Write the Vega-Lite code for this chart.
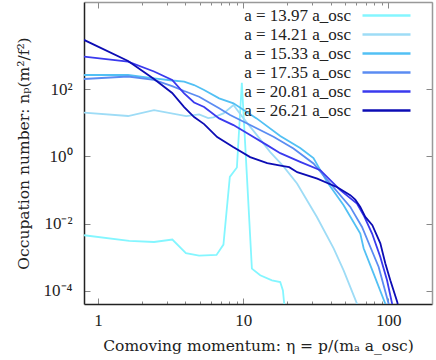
{
  "$schema": "https://vega.github.io/schema/vega-lite/v6.json",
  "width": 348,
  "height": 302,
  "autosize": {"type": "none"},
  "padding": {"left": 84, "top": 2, "right": 4, "bottom": 56},
  "background": "white",
  "config": {
    "font": "Liberation Serif",
    "view": {"stroke": null},
    "axis": {"grid": false, "labelFont": "Liberation Serif", "titleFont": "DejaVu Serif", "labelFontSize": 17, "titleFontSize": 15.5, "titleFontWeight": "normal", "labelColor": "#222", "titleColor": "#222", "tickColor": "#888", "tickWidth": 1}
  },
  "data": {"values": [
    {"s": "a = 13.97 a_osc", "eta": 0.8, "n": 0.00448},
    {"s": "a = 13.97 a_osc", "eta": 1.64, "n": 0.00303},
    {"s": "a = 13.97 a_osc", "eta": 2.43, "n": 0.00282},
    {"s": "a = 13.97 a_osc", "eta": 3.25, "n": 0.00333},
    {"s": "a = 13.97 a_osc", "eta": 4.03, "n": 0.00132},
    {"s": "a = 13.97 a_osc", "eta": 4.97, "n": 0.00111},
    {"s": "a = 13.97 a_osc", "eta": 6.55, "n": 0.00116},
    {"s": "a = 13.97 a_osc", "eta": 7.31, "n": 0.00236},
    {"s": "a = 13.97 a_osc", "eta": 8.09, "n": 0.246},
    {"s": "a = 13.97 a_osc", "eta": 9.05, "n": 0.47},
    {"s": "a = 13.97 a_osc", "eta": 9.79, "n": 157},
    {"s": "a = 13.97 a_osc", "eta": 10.6, "n": 0.277},
    {"s": "a = 13.97 a_osc", "eta": 11.48, "n": 0.000454},
    {"s": "a = 13.97 a_osc", "eta": 13.1, "n": 0.000287},
    {"s": "a = 13.97 a_osc", "eta": 15.78, "n": 0.000203},
    {"s": "a = 13.97 a_osc", "eta": 18.0, "n": 0.000181},
    {"s": "a = 13.97 a_osc", "eta": 18.78, "n": 0.000102},
    {"s": "a = 13.97 a_osc", "eta": 19.3, "n": 0.00003},

    {"s": "a = 14.21 a_osc", "eta": 0.8, "n": 20.3},
    {"s": "a = 14.21 a_osc", "eta": 1.61, "n": 16.0},
    {"s": "a = 14.21 a_osc", "eta": 2.43, "n": 24.1},
    {"s": "a = 14.21 a_osc", "eta": 4.05, "n": 16.0},
    {"s": "a = 14.21 a_osc", "eta": 4.97, "n": 17.9},
    {"s": "a = 14.21 a_osc", "eta": 5.74, "n": 13.9},
    {"s": "a = 14.21 a_osc", "eta": 6.24, "n": 14.6},
    {"s": "a = 14.21 a_osc", "eta": 7.31, "n": 19.2},
    {"s": "a = 14.21 a_osc", "eta": 8.57, "n": 34.0},
    {"s": "a = 14.21 a_osc", "eta": 10.05, "n": 13.6},
    {"s": "a = 14.21 a_osc", "eta": 12.43, "n": 4.32},
    {"s": "a = 14.21 a_osc", "eta": 15.36, "n": 1.34},
    {"s": "a = 14.21 a_osc", "eta": 18.88, "n": 0.513},
    {"s": "a = 14.21 a_osc", "eta": 23.5, "n": 0.156},
    {"s": "a = 14.21 a_osc", "eta": 32.2, "n": 0.0157},
    {"s": "a = 14.21 a_osc", "eta": 42.0, "n": 0.00183},
    {"s": "a = 14.21 a_osc", "eta": 49.2, "n": 0.000404},
    {"s": "a = 14.21 a_osc", "eta": 60.8, "n": 0.0000409},
    {"s": "a = 14.21 a_osc", "eta": 62.5, "n": 0.00003},

    {"s": "a = 15.33 a_osc", "eta": 0.8, "n": 267},
    {"s": "a = 15.33 a_osc", "eta": 1.61, "n": 267},
    {"s": "a = 15.33 a_osc", "eta": 2.43, "n": 213},
    {"s": "a = 15.33 a_osc", "eta": 3.24, "n": 183},
    {"s": "a = 15.33 a_osc", "eta": 3.92, "n": 169},
    {"s": "a = 15.33 a_osc", "eta": 4.59, "n": 134},
    {"s": "a = 15.33 a_osc", "eta": 5.38, "n": 95.3},
    {"s": "a = 15.33 a_osc", "eta": 6.83, "n": 53.8},
    {"s": "a = 15.33 a_osc", "eta": 8.57, "n": 38.2},
    {"s": "a = 15.33 a_osc", "eta": 12.37, "n": 13.6},
    {"s": "a = 15.33 a_osc", "eta": 18.0, "n": 4.04},
    {"s": "a = 15.33 a_osc", "eta": 24.7, "n": 1.77},
    {"s": "a = 15.33 a_osc", "eta": 30.5, "n": 0.89},
    {"s": "a = 15.33 a_osc", "eta": 37.8, "n": 0.175},
    {"s": "a = 15.33 a_osc", "eta": 49.2, "n": 0.0352},
    {"s": "a = 15.33 a_osc", "eta": 64.1, "n": 0.00503},
    {"s": "a = 15.33 a_osc", "eta": 67.6, "n": 0.00183},
    {"s": "a = 15.33 a_osc", "eta": 79.2, "n": 0.000321},
    {"s": "a = 15.33 a_osc", "eta": 95.3, "n": 0.0000409},
    {"s": "a = 15.33 a_osc", "eta": 97.5, "n": 0.00003},

    {"s": "a = 17.35 a_osc", "eta": 0.8, "n": 203},
    {"s": "a = 17.35 a_osc", "eta": 1.61, "n": 241},
    {"s": "a = 17.35 a_osc", "eta": 2.43, "n": 190},
    {"s": "a = 17.35 a_osc", "eta": 3.24, "n": 125},
    {"s": "a = 17.35 a_osc", "eta": 3.92, "n": 89},
    {"s": "a = 17.35 a_osc", "eta": 4.97, "n": 60.1},
    {"s": "a = 17.35 a_osc", "eta": 6.83, "n": 27.1},
    {"s": "a = 17.35 a_osc", "eta": 8.13, "n": 17.1},
    {"s": "a = 17.35 a_osc", "eta": 11.17, "n": 8.6},
    {"s": "a = 17.35 a_osc", "eta": 16.18, "n": 3.85},
    {"s": "a = 17.35 a_osc", "eta": 22.2, "n": 1.73},
    {"s": "a = 17.35 a_osc", "eta": 30.5, "n": 0.618},
    {"s": "a = 17.35 a_osc", "eta": 39.8, "n": 0.156},
    {"s": "a = 17.35 a_osc", "eta": 54.7, "n": 0.0313},
    {"s": "a = 17.35 a_osc", "eta": 65.9, "n": 0.00792},
    {"s": "a = 17.35 a_osc", "eta": 75.2, "n": 0.002},
    {"s": "a = 17.35 a_osc", "eta": 85.8, "n": 0.000506},
    {"s": "a = 17.35 a_osc", "eta": 100.5, "n": 0.0000409},
    {"s": "a = 17.35 a_osc", "eta": 102.5, "n": 0.00003},

    {"s": "a = 20.81 a_osc", "eta": 0.8, "n": 940},
    {"s": "a = 20.81 a_osc", "eta": 1.61, "n": 667},
    {"s": "a = 20.81 a_osc", "eta": 2.43, "n": 340},
    {"s": "a = 20.81 a_osc", "eta": 3.24, "n": 190},
    {"s": "a = 20.81 a_osc", "eta": 3.92, "n": 76},
    {"s": "a = 20.81 a_osc", "eta": 4.59, "n": 40.4},
    {"s": "a = 20.81 a_osc", "eta": 5.38, "n": 29.6},
    {"s": "a = 20.81 a_osc", "eta": 6.83, "n": 13.6},
    {"s": "a = 20.81 a_osc", "eta": 8.57, "n": 8.6},
    {"s": "a = 20.81 a_osc", "eta": 11.17, "n": 4.32},
    {"s": "a = 20.81 a_osc", "eta": 14.6, "n": 2.17},
    {"s": "a = 20.81 a_osc", "eta": 18.0, "n": 1.25},
    {"s": "a = 20.81 a_osc", "eta": 24.7, "n": 0.69},
    {"s": "a = 20.81 a_osc", "eta": 34.0, "n": 0.39},
    {"s": "a = 20.81 a_osc", "eta": 46.7, "n": 0.0986},
    {"s": "a = 20.81 a_osc", "eta": 60.8, "n": 0.0395},
    {"s": "a = 20.81 a_osc", "eta": 67.6, "n": 0.0177},
    {"s": "a = 20.81 a_osc", "eta": 77.3, "n": 0.00503},
    {"s": "a = 20.81 a_osc", "eta": 88.1, "n": 0.00101},
    {"s": "a = 20.81 a_osc", "eta": 98.0, "n": 0.000203},
    {"s": "a = 20.81 a_osc", "eta": 106.2, "n": 0.0000409},
    {"s": "a = 20.81 a_osc", "eta": 108, "n": 0.00003},

    {"s": "a = 26.21 a_osc", "eta": 0.8, "n": 2965},
    {"s": "a = 26.21 a_osc", "eta": 1.61, "n": 699},
    {"s": "a = 26.21 a_osc", "eta": 2.43, "n": 203},
    {"s": "a = 26.21 a_osc", "eta": 3.24, "n": 77.6},
    {"s": "a = 26.21 a_osc", "eta": 3.92, "n": 29.6},
    {"s": "a = 26.21 a_osc", "eta": 4.59, "n": 14.9},
    {"s": "a = 26.21 a_osc", "eta": 5.38, "n": 9.21},
    {"s": "a = 26.21 a_osc", "eta": 6.62, "n": 3.77},
    {"s": "a = 26.21 a_osc", "eta": 8.53, "n": 1.9},
    {"s": "a = 26.21 a_osc", "eta": 11.17, "n": 0.953},
    {"s": "a = 26.21 a_osc", "eta": 14.64, "n": 0.631},
    {"s": "a = 26.21 a_osc", "eta": 18.88, "n": 0.513},
    {"s": "a = 26.21 a_osc", "eta": 20.76, "n": 0.479},
    {"s": "a = 26.21 a_osc", "eta": 23.57, "n": 0.34},
    {"s": "a = 26.21 a_osc", "eta": 32.38, "n": 0.217},
    {"s": "a = 26.21 a_osc", "eta": 44.49, "n": 0.121},
    {"s": "a = 26.21 a_osc", "eta": 54.7, "n": 0.07},
    {"s": "a = 26.21 a_osc", "eta": 59.2, "n": 0.0513},
    {"s": "a = 26.21 a_osc", "eta": 64.1, "n": 0.0313},
    {"s": "a = 26.21 a_osc", "eta": 69.4, "n": 0.01575},
    {"s": "a = 26.21 a_osc", "eta": 77.6, "n": 0.00891},
    {"s": "a = 26.21 a_osc", "eta": 88.1, "n": 0.00258},
    {"s": "a = 26.21 a_osc", "eta": 95.3, "n": 0.000653},
    {"s": "a = 26.21 a_osc", "eta": 103.2, "n": 0.000203},
    {"s": "a = 26.21 a_osc", "eta": 115.4, "n": 0.0000448},
    {"s": "a = 26.21 a_osc", "eta": 117.5, "n": 0.00003}
  ]},
  "layer": [
    {
      "mark": {"type": "line", "strokeWidth": 1.8, "clip": true},
      "encoding": {
        "x": {"field": "eta", "type": "quantitative",
          "scale": {"type": "log", "domain": [0.8, 200], "nice": false},
          "axis": {"orient": "bottom", "title": "Comoving momentum: η = p/(mₐ a_osc)",
            "values": [1,2,3,4,5,6,7,8,9,10,20,30,40,50,60,70,80,90,100,200],
            "labelExpr": "(datum.value==1||datum.value==10||datum.value==100) ? datum.label : ''",
            "tickSize": {"condition": {"test": "datum.value==1||datum.value==10||datum.value==100", "value": -6}, "value": -3},
            "labelPadding": 14, "titlePadding": 10, "domainColor": "#222", "domainWidth": 1.5, "labelFlush": false}},
        "y": {"field": "n", "type": "quantitative",
          "scale": {"type": "log", "domain": [0.00004, 40000], "nice": false},
          "axis": {"orient": "left", "title": "Occupation number: nₚ(m²/f²)",
            "values": [0.0001, 0.01, 1, 100],
            "labelExpr": "datum.value==100 ? '10²' : datum.value==1 ? '10⁰' : datum.value==0.01 ? '10⁻²' : '10⁻⁴'",
            "tickSize": -6, "labelPadding": 18, "titlePadding": 12, "domainColor": "#222", "domainWidth": 1.5}},
        "color": {"field": "s", "type": "nominal",
          "scale": {"domain": ["a = 13.97 a_osc", "a = 14.21 a_osc", "a = 15.33 a_osc", "a = 17.35 a_osc", "a = 20.81 a_osc", "a = 26.21 a_osc"],
            "range": ["#84f6ff", "#9edcf6", "#52c0f4", "#5b8cf2", "#3a3aee", "#0c0cb4"]},
          "legend": {"title": null, "orient": "none", "legendX": 166, "legendY": 5,
            "symbolType": "M-4,0L4,0", "symbolSize": 144, "symbolStrokeWidth": 2.5,
            "symbolOffset": 128, "labelAlign": "right", "labelOffset": -44,
            "labelFont": "Liberation Serif", "labelFontSize": 17, "labelColor": "#222",
            "rowPadding": 1, "labelLimit": 300}}
      }
    },
    {
      "mark": {"type": "point", "opacity": 0},
      "encoding": {
        "x": {"field": "eta", "type": "quantitative",
          "axis": {"orient": "top", "title": null, "labels": false,
            "values": [1,2,3,4,5,6,7,8,9,10,20,30,40,50,60,70,80,90,100,200],
            "tickSize": {"condition": {"test": "datum.value==1||datum.value==10||datum.value==100", "value": -6}, "value": -3},
            "domainColor": "#999", "domainWidth": 1.5}},
        "y": {"field": "n", "type": "quantitative",
          "axis": {"orient": "right", "title": null, "labels": false,
            "values": [0.0001, 0.01, 1, 100], "tickSize": -6,
            "domainColor": "#999", "domainWidth": 1.5}}
      }
    }
  ],
  "resolve": {"axis": {"x": "independent", "y": "independent"}}
}
